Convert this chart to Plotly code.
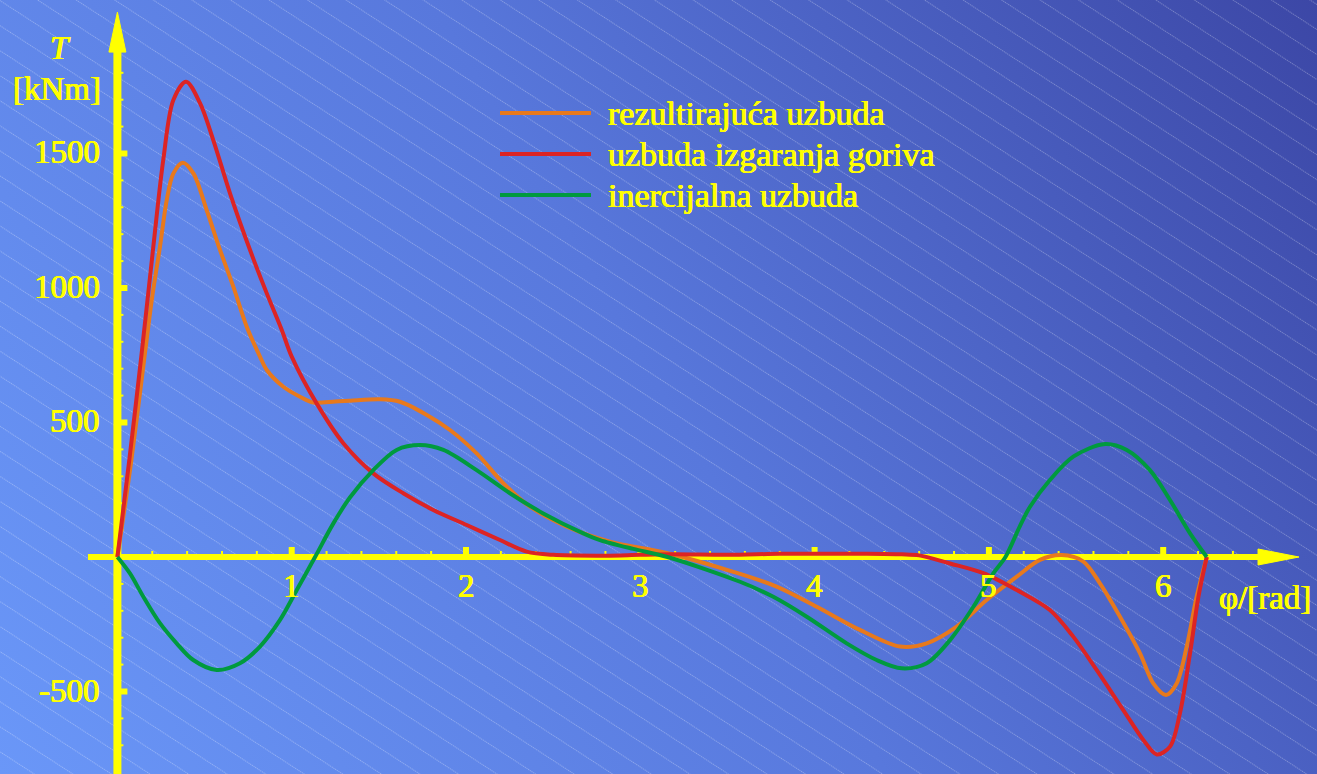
import base64
import plotly.graph_objects as go

# ---- data: torque T [kNm] versus crank angle phi [rad] ----
phi_res = [0, 0.08, 0.158, 0.197, 0.244, 0.283, 0.321, 0.375, 0.436, 0.512, 0.589, 0.665,
           0.742, 0.818, 0.857, 0.952, 1.05, 1.124, 1.25, 1.335, 1.507, 1.621, 1.775, 1.908,
           2.061, 2.214, 2.367, 2.578, 2.826, 3.151, 3.534, 3.782, 4.012, 4.26, 4.49, 4.643,
           4.815, 4.987, 5.16, 5.293, 5.418, 5.542, 5.637, 5.752, 5.867, 5.943, 6.016, 6.077,
           6.135, 6.192, 6.25]
T_res = [0, 360, 757, 955, 1153, 1327, 1426, 1466, 1426, 1290, 1141, 1005,
         856, 745, 695, 633, 595, 574, 578, 581, 586, 577, 528, 472,
         385, 274, 187, 113, 57, 15, -55, -110, -185, -271, -333, -321,
         -259, -160, -73, -11, 7, -17, -98, -222, -358, -470, -513, -470,
         -333, -148, 0]

phi_comb = [0, 0.07, 0.139, 0.206, 0.263, 0.321, 0.394, 0.474, 0.55, 0.646, 0.761, 0.857,
            0.943, 1.0, 1.143, 1.296, 1.468, 1.64, 1.812, 2.004, 2.195, 2.348, 2.5, 2.8,
            3.0, 3.2, 3.5, 3.8, 4.0, 4.3, 4.5, 4.6, 4.777, 4.968, 5.16, 5.35, 5.484, 5.618,
            5.771, 5.886, 5.963, 6.039, 6.096, 6.154, 6.202, 6.25]
T_comb = [0, 370, 757, 1153, 1476, 1699, 1767, 1687, 1550, 1352, 1141, 980,
          844, 745, 571, 423, 311, 237, 175, 119, 63, 20, 8, 5,
          8, 10, 8, 12, 12, 12, 10, 6, -24, -60, -123, -197, -296, -420,
          -569, -680, -734, -705, -581, -358, -148, 0]

phi_inert = [0, 0.072, 0.149, 0.244, 0.340, 0.435, 0.570, 0.703, 0.818, 0.933, 1.029,
             1.134, 1.239, 1.335, 1.468, 1.602, 1.736, 1.870, 2.061, 2.252, 2.443, 2.673,
             2.769, 2.960, 3.151, 3.572, 3.763, 3.955, 4.184, 4.356, 4.5, 4.643, 4.777,
             4.911, 5.025, 5.095, 5.178, 5.236, 5.350, 5.484, 5.666, 5.791, 5.924, 6.039,
             6.154, 6.25]
T_inert = [0, -61, -148, -246, -321, -383, -420, -395, -333, -234, -123,
           0, 125, 222, 323, 398, 416, 398, 323, 237, 162, 88,
           63, 30, 1, -92, -148, -222, -321, -383, -414, -395, -309,
           -185, -61, 0, 115, 187, 286, 373, 420, 398, 323, 212,
           88, 0]

series_names = ["rezultirajuća uzbuda", "uzbuda izgaranja goriva", "inercijalna uzbuda"]
series_colors = ["#e8791c", "#dc2424", "#009a3e"]

x_ticks = [1, 2, 3, 4, 5, 6]
y_ticks = [1500, 1000, 500, -500]

W, H = 1317, 774
X_RANGE = [-0.6736, 6.8824]
Y_RANGE = [-806.7, 2070.6]
YELLOW = "#ffff00"
FONT = "Liberation Serif"
HEAVY = "0.45px 0 0 #ffff00, -0.45px 0 0 #ffff00, 0 0.4px 0 #ffff00"


def yfont(size, **kw):
    return dict(family=FONT, size=size, color=YELLOW, shadow=HEAVY, **kw)


# ---- background: diagonal blue gradient with fine light hatching ----
svg = f"""<svg xmlns='http://www.w3.org/2000/svg' width='{W}' height='{H}' viewBox='0 0 {W} {H}' preserveAspectRatio='none'>
<defs>
<linearGradient id='g' gradientUnits='userSpaceOnUse' x1='0' y1='{H}' x2='{W}' y2='0'>
<stop offset='0' stop-color='#6a97f8'/>
<stop offset='0.5' stop-color='#5878dc'/>
<stop offset='1' stop-color='#3c47a6'/>
</linearGradient>
<pattern id='h' patternUnits='userSpaceOnUse' width='60' height='21' patternTransform='rotate(33)'>
<line x1='0' y1='0.5' x2='60' y2='0.5' stroke='#ffffff' stroke-opacity='0.3' stroke-width='1' stroke-dasharray='1.2 0.8'/>
</pattern>
</defs>
<rect x='0' y='0' width='{W}' height='{H}' fill='url(#g)'/>
<rect x='0' y='0' width='{W}' height='{H}' fill='url(#h)'/>
</svg>"""
bg_uri = "data:image/svg+xml;base64," + base64.b64encode(svg.encode()).decode()

fig = go.Figure()

for xs, ys, name, col in zip([phi_res, phi_comb, phi_inert], [T_res, T_comb, T_inert],
                             series_names, series_colors):
    fig.add_trace(go.Scatter(x=xs, y=ys, mode="lines", name=name,
                             line=dict(color=col, width=4, shape="spline", smoothing=0.9),
                             showlegend=False, hoverinfo="skip"))

shapes = []
annotations = []

# axes with arrow heads (drawn beneath the curves)
shapes.append(dict(type="line", xref="x", yref="y", x0=-0.169, x1=6.56, y0=0, y1=0,
                   line=dict(color=YELLOW, width=6), layer="below"))
shapes.append(dict(type="path", xref="x", yref="y", xsizemode="pixel", ysizemode="pixel",
                   xanchor=6.544, yanchor=0, path="M 0,-8 L 41,0 L 0,8 Z",
                   fillcolor=YELLOW, line=dict(color=YELLOW, width=1), layer="below"))
shapes.append(dict(type="line", xref="x", yref="y", x0=0, x1=0, y0=-900, y1=1880,
                   line=dict(color=YELLOW, width=8), layer="below"))
shapes.append(dict(type="path", xref="x", yref="y", xsizemode="pixel", ysizemode="pixel",
                   xanchor=0, yanchor=1877, path="M -8.5,0 L 8.5,0 L 0,40 Z",
                   fillcolor=YELLOW, line=dict(color=YELLOW, width=1), layer="below"))

# x ticks: minor every 0.2, major on integers
for i in range(1, 33):
    v = i * 0.2
    major = (i % 5 == 0)
    hw = 3 if major else 1
    top = 10 if major else 6
    shapes.append(dict(type="rect", xref="x", yref="y", xsizemode="pixel", ysizemode="pixel",
                       xanchor=v, yanchor=0, x0=-hw, x1=hw, y0=0, y1=top,
                       fillcolor=YELLOW, line=dict(width=0), layer="below"))

# y ticks: minor every 100, major on labelled values
for v in range(-700, 1900, 100):
    if v == 0:
        continue
    major = v in y_ticks
    ln = 10 if major else 6
    hh = 3 if major else 1
    shapes.append(dict(type="rect", xref="x", yref="y", xsizemode="pixel", ysizemode="pixel",
                       xanchor=0, yanchor=v, x0=0, x1=ln, y0=-hh, y1=hh,
                       fillcolor=YELLOW, line=dict(width=0), layer="below"))

for v in x_ticks:
    annotations.append(dict(x=v, y=0, xref="x", yref="y", text=str(v), showarrow=False,
                            xanchor="center", yanchor="middle", yshift=-29,
                            font=yfont(33)))
for v in y_ticks:
    annotations.append(dict(x=0, y=v, xref="x", yref="y", text=str(v), showarrow=False,
                            xanchor="right", yanchor="middle", xshift=-15, yshift=1,
                            font=yfont(33)))

# axis titles
annotations.append(dict(x=60 / W, y=1 - 48 / H, xref="paper", yref="paper", text="T",
                        showarrow=False, xanchor="center", yanchor="middle",
                        font=yfont(33, style="italic")))
annotations.append(dict(x=57 / W, y=1 - 89 / H, xref="paper", yref="paper", text="[kNm]",
                        showarrow=False, xanchor="center", yanchor="middle", font=yfont(33)))
annotations.append(dict(x=1265 / W, y=1 - 598 / H, xref="paper", yref="paper", text="φ/[rad]",
                        showarrow=False, xanchor="center", yanchor="middle", font=yfont(33)))

# legend
for k, (name, col) in enumerate(zip(series_names, series_colors)):
    yp = 1 - (113 + 41 * k) / H
    shapes.append(dict(type="line", xref="paper", yref="paper", x0=500 / W, x1=591 / W,
                       y0=yp, y1=yp, line=dict(color=col, width=4)))
    annotations.append(dict(x=606 / W, y=yp, xref="paper", yref="paper", text=name,
                            showarrow=False, xanchor="left", yanchor="middle",
                            font=yfont(34)))

fig.update_layout(
    width=W, height=H,
    margin=dict(l=0, r=0, t=0, b=0),
    paper_bgcolor="#5878dc", plot_bgcolor="rgba(0,0,0,0)",
    xaxis=dict(range=X_RANGE, visible=False, fixedrange=True),
    yaxis=dict(range=Y_RANGE, visible=False, fixedrange=True),
    images=[dict(source=bg_uri, xref="paper", yref="paper", x=0, y=1, sizex=1, sizey=1,
                 xanchor="left", yanchor="top", sizing="stretch", layer="below")],
    shapes=shapes, annotations=annotations, showlegend=False,
)

fig.write_html("out.html", config={"displayModeBar": False})
